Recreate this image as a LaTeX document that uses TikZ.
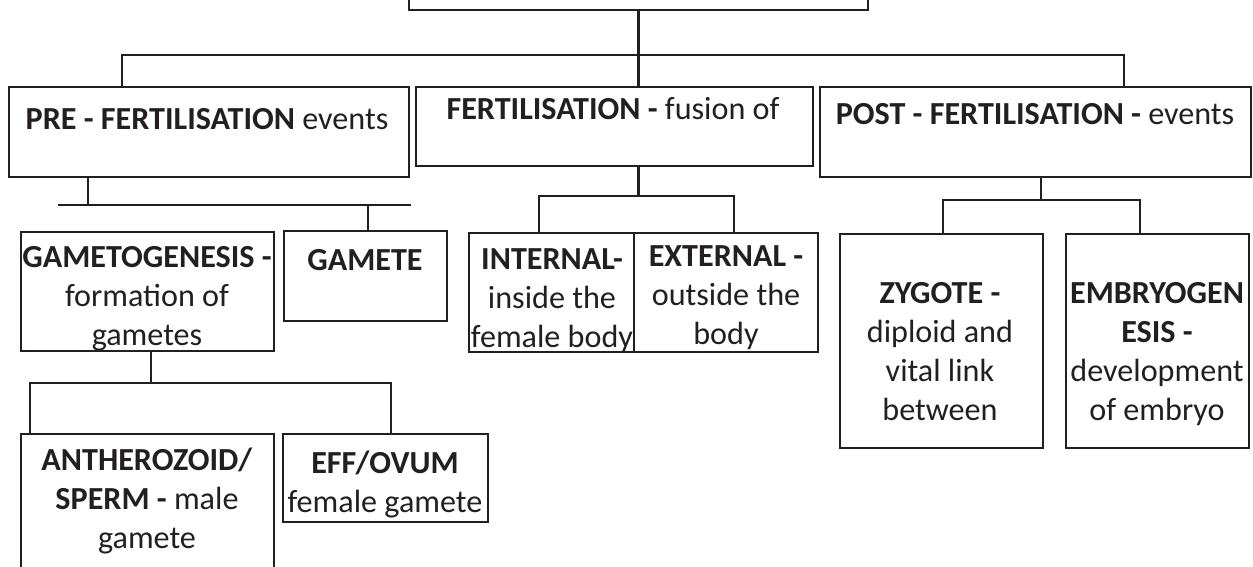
\documentclass[tikz,border=0pt]{standalone}
\usepackage{fontspec}
\setmainfont{Carlito}
\usetikzlibrary{positioning, calc, fit}
\definecolor{ink}{RGB}{35, 31, 32}
\tikzset{
  box/.style={
    rectangle, draw=ink, line width=1.3pt,
    inner sep=0pt
  },
  txt/.style={
    align=center, inner sep=0pt, anchor=base, text=ink,
    font=\fontsize{18.3}{22.2}\selectfont
  },
  link/.style={draw=ink, line width=1.3pt},
}

\begin{document}
\begin{tikzpicture}[x=0.02cm, y=-0.02cm]

  \useasboundingbox (0,0) rectangle (1253,566);

  %% ── Top box (cut off by the page) ─────────────────────────────────────────

  \node[box, fit={(409,-60) (868,10)}] (top) {};

  %% ── First row ─────────────────────────────────────────────────────────────

  \node[box, fit={(9,87) (409,177)}] (pre) {};
  \node[txt] (preT) at (207,129) {\textbf{PRE - FERTILISATION} events};

  \node[box, fit={(416,87) (813,166)}] (fert) {};
  \node[txt] (fertT) at (613,119) {\textbf{FERTILISATION -} fusion of};

  \node[box, fit={(820,87) (1251,177)}] (post) {};
  \node[txt] (postT) at (1035,124) {\textbf{POST - FERTILISATION -} events};

  \coordinate (busL) at (122,55);
  \coordinate (busR) at (1124,55);
  \draw[link] (top.south) -- (top.south |- fert.north);
  \draw[link] (pre.north -| busL) -- (busL) -- (busR) -- (post.north -| busR);

  %% ── Pre-fertilisation branch ──────────────────────────────────────────────

  \node[box, fit={(21,232) (274,351)}] (gamgen) {};
  \node[txt] (gamgenT) at (147,345)
    {\textbf{GAMETOGENESIS -}\\formation of\\gametes};

  \node[box, fit={(284,231) (447,321)}] (gamete) {};
  \node[txt] (gameteT) at (365,270) {\textbf{GAMETE}};

  \coordinate (preS) at (88,205);
  \coordinate (preL) at (58,205);
  \coordinate (preR) at (411,205);
  \coordinate (preD) at (368,205);
  \draw[link] (pre.south -| preS) -- (preS);
  \draw[link] (preL) -- (preR);
  \draw[link] (preD) -- (gamete.north -| preD);

  \node[box, fit={(21,434) (274,600)}] (anthero) {};
  \node[txt] (antheroT) at (147,548)
    {\textbf{ANTHEROZOID/}\\\textbf{SPERM -} male\\gamete};

  \node[box, fit={(283,434) (488,522)}] (ovum) {};
  \node[txt] (ovumT) at (385,512) {\textbf{EFF/OVUM}\\female gamete};

  \coordinate (gamL) at (30,383);
  \coordinate (gamR) at (391,383);
  \draw[link] (gamgen.south -| 151,0) |- (gamL) -- (anthero.north -| gamL);
  \draw[link] (gamgen.south -| 151,0) |- (gamR) -- (ovum.north -| gamR);

  %% ── Fertilisation branch ──────────────────────────────────────────────────

  \node[box, fit={(469,233) (634,352)}] (internal) {};
  \node[txt] (internalT) at (552,347)
    {\textbf{INTERNAL-}\\inside the\\female body};

  \node[box, fit={(634,233) (818,352)}] (external) {};
  \node[txt] (externalT) at (726,344)
    {\textbf{EXTERNAL -}\\outside the\\body};

  \coordinate (ferL) at (539,196);
  \coordinate (ferR) at (734,196);
  \draw[link] (fert.south -| top.south) |- (ferL) -- (internal.north -| ferL);
  \draw[link] (fert.south -| top.south) |- (ferR) -- (external.north -| ferR);

  %% ── Post-fertilisation branch ─────────────────────────────────────────────

  \node[box, fit={(840,234) (1043,448)}] (zygote) {};
  \node[txt] (zygoteT) at (940,420)
    {\textbf{ZYGOTE -}\\diploid and\\vital link\\between};

  \node[box, fit={(1066,234) (1249,448)}] (embryo) {};
  \node[txt] (embryoT) at (1157,420)
    {\textbf{EMBRYOGEN}\\\textbf{ESIS -}\\development\\of embryo};

  \coordinate (posL) at (943,200);
  \coordinate (posR) at (1140,200);
  \draw[link] (post.south -| 1041,0) |- (posL) -- (zygote.north -| posL);
  \draw[link] (post.south -| 1041,0) |- (posR) -- (embryo.north -| posR);

\end{tikzpicture}
\end{document}
